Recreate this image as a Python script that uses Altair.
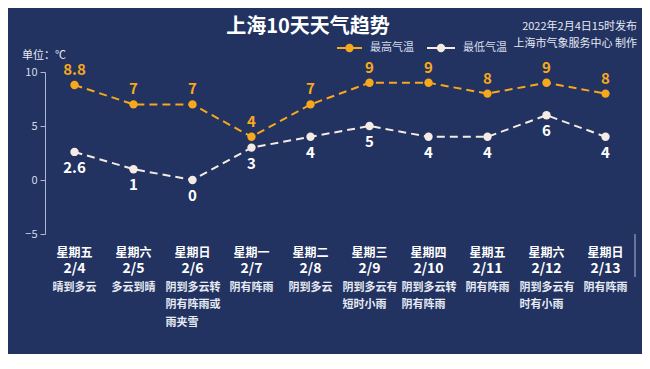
import altair as alt
import pandas as pd

# ---- data ----
weekdays = ["星期五", "星期六", "星期日", "星期一", "星期二", "星期三", "星期四", "星期五", "星期六", "星期日"]
dates = ["2/4", "2/5", "2/6", "2/7", "2/8", "2/9", "2/10", "2/11", "2/12", "2/13"]
weather = ["晴到多云", "多云到晴", "阴到多云转\n阴有阵雨或\n雨夹雪", "阴有阵雨", "阴到多云",
           "阴到多云有\n短时小雨", "阴到多云转\n阴有阵雨", "阴有阵雨", "阴到多云有\n时有小雨", "阴有阵雨"]
high = [8.8, 7, 7, 4, 7, 9, 9, 8, 9, 8]
low = [2.6, 1, 0, 3, 4, 5, 4, 4, 6, 4]
series_names = ["最高气温", "最低气温"]
y_ticks = [-5, 0, 5, 10]

title_text = "上海10天天气趋势"
pub_line1 = "2022年2月4日15时发布"
pub_line2 = "上海市气象服务中心 制作"
unit_text = "单位：℃"

# ---- styles ----
BG = "#223261"
ORANGE = "#F7A81B"
WHITE = "#F4ECE4"
AXIS = "#AEB8D2"
FONT = "Noto Sans CJK SC"
W, H = 590, 162


def fmt(v):
    return str(int(v)) if float(v).is_integer() else str(v)


rows = []
for i, d in enumerate(dates):
    rows.append({"day": d, "series": series_names[0], "value": high[i], "label": fmt(high[i])})
    rows.append({"day": d, "series": series_names[1], "value": low[i], "label": fmt(low[i])})
df = pd.DataFrame(rows)

cats = pd.DataFrame({"day": dates, "weekday": weekdays, "weather": weather,
                     "multi": ["\n" in w for w in weather]})

xscale = alt.Scale(domain=dates, paddingInner=0, paddingOuter=0)
yscale = alt.Scale(domain=[-5, 10], nice=False, zero=False)

X = alt.X("day:N", scale=xscale, sort=dates,
          axis=alt.Axis(title=None, labels=False, bandPosition=0, tickSize=43,
                        tickColor=AXIS, domainColor=AXIS, tickWidth=1, domainWidth=1))
Y = alt.Y("value:Q", scale=yscale,
          axis=alt.Axis(title=None, values=y_ticks, grid=False, tickSize=5, tickColor=AXIS,
                        domainColor=AXIS, labelColor="#D6DCEA", labelFontSize=11,
                        labelFont=FONT, labelPadding=3))

cscale = alt.Scale(domain=series_names, range=[ORANGE, WHITE])

base = alt.Chart(df)

lines = base.mark_line(strokeDash=[8, 5], strokeWidth=2).encode(
    x=X, y=Y, stroke=alt.Stroke("series:N", scale=cscale, legend=None), detail="series:N")

points = base.mark_point(filled=True, size=70, opacity=1).encode(
    x=X, y=Y, fill=alt.Fill("series:N", scale=cscale, legend=None))

hi_text = base.transform_filter(alt.datum.series == series_names[0]).mark_text(
    dy=-15, fontSize=15, fontWeight="bold", font=FONT, color=ORANGE).encode(
    x=X, y=Y, text="label:N")
lo_text = base.transform_filter(alt.datum.series == series_names[1]).mark_text(
    dy=16, fontSize=15, fontWeight="bold", font=FONT, color="#FFFFFF").encode(
    x=X, y=Y, text="label:N")

cbase = alt.Chart(cats)
Xc = alt.X("day:N", scale=xscale, sort=dates, axis=None)

wk = cbase.mark_text(fontSize=12, fontWeight="bold", font=FONT, color="#FFFFFF").encode(
    x=Xc, y=alt.value(180.5), text="weekday:N")
dt = cbase.mark_text(fontSize=14, fontWeight="bold", font=FONT, color="#FFFFFF").encode(
    x=Xc, y=alt.value(197), text="day:N")
w1 = cbase.transform_filter("!datum.multi").mark_text(
    fontSize=11, fontWeight="bold", font=FONT, color="#E6EAF3", baseline="middle").encode(
    x=Xc, y=alt.value(215.5), text="weather:N")
w2 = cbase.transform_filter("datum.multi").mark_text(
    fontSize=11, fontWeight="bold", font=FONT, color="#E6EAF3", baseline="top", align="left",
    dx=-27, lineBreak="\n", lineHeight=17.5).encode(
    x=Xc, y=alt.value(209.5), text="weather:N")

end_rule = cbase.transform_filter(alt.datum.day == dates[-1]).mark_rule(
    color=AXIS, strokeWidth=1).encode(
    x=alt.X("day:N", scale=xscale, sort=dates, axis=None, bandPosition=1),
    y=alt.value(H), y2=alt.value(H + 43))


def single_text(txt, x, y, size, color, align="center", weight="normal"):
    return alt.Chart(pd.DataFrame({"t": [txt]})).mark_text(
        fontSize=size, fontWeight=weight, font=FONT, color=color, align=align).encode(
        x=alt.value(x), y=alt.value(y), text="t:N")


ttl = single_text(title_text, 263, -45, 20, "#FFFFFF", weight="bold")
pub1 = single_text(pub_line1, 592, -45, 11, "#E6EAF3", align="right")
pub2 = single_text(pub_line2, 592, -28, 11, "#E6EAF3", align="right")
unit = single_text(unit_text, -23, -16, 11, "#E6EAF3", align="left")

# ---- legend (manual): line + dot + label per series ----
leg_layers = []
leg_pos = [(292, 317), (382, 410)]
leg_colors = [ORANGE, WHITE]
for name, (x0, x1), col in zip(series_names, leg_pos, leg_colors):
    ld = alt.Chart(pd.DataFrame({"series": [name]}))
    leg_layers.append(ld.mark_rule(color=col, strokeWidth=2).encode(
        x=alt.value(x0), x2=alt.value(x1), y=alt.value(-24)))
    leg_layers.append(ld.mark_point(filled=True, size=70, opacity=1, color=col).encode(
        x=alt.value((x0 + x1) / 2), y=alt.value(-24)))
    leg_layers.append(ld.mark_text(fontSize=11, font=FONT, color="#D6DCEA", align="left").encode(
        x=alt.value(x1 + 8), y=alt.value(-24), text="series:N"))

chart = alt.layer(lines, points, hi_text, lo_text, wk, dt, w1, w2, end_rule,
                  ttl, pub1, pub2, unit, *leg_layers).properties(
    width=W, height=H,
    autosize=alt.AutoSizeParams(type="none"),
    padding={"left": 37, "top": 64, "right": 7, "bottom": 120},
    background=BG,
).configure_view(stroke=None)

chart.save("out.html", embed_options={"renderer": "svg", "actions": False})
